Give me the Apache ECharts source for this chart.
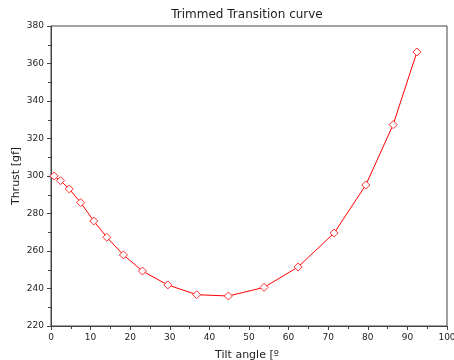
<!DOCTYPE html>
<html>
<head>
<meta charset="utf-8">
<script src="https://cdn.jsdelivr.net/npm/echarts@6/dist/echarts.min.js"></script>
<style>
  html, body { margin: 0; padding: 0; background: #fff; }
  #chart { width: 454px; height: 360px; }
</style>
</head>
<body>
<div id="chart"></div>
<script>
// tilt angle [deg] and thrust [gf]
const tiltAngle = [0.8, 2.4, 4.6, 7.5, 10.8, 14.1, 18.3, 23.1, 29.5, 36.8, 44.8, 53.8, 62.4, 71.5, 79.5, 86.4, 92.4];
const thrust = [300, 297.5, 293.1, 285.8, 276, 267.3, 257.9, 249.3, 241.9, 236.7, 236, 240.6, 251.5, 269.6, 295.2, 327.4, 366.1];

const font = 'DejaVu Sans, sans-serif';
const chart = echarts.init(document.getElementById('chart'), null, { renderer: 'canvas' });

const axisCommon = {
  axisLine: { lineStyle: { color: '#444', width: 1 } },
  axisTick: { show: true, length: 4, lineStyle: { color: '#444' } },
  minorTick: { show: true, splitNumber: 2, length: 3, lineStyle: { color: '#444' } },
  splitLine: { show: false },
  axisLabel: { color: '#222', fontSize: 9, fontFamily: font, margin: 7 },
  nameTextStyle: { color: '#222', fontSize: 11, fontFamily: font },
};

chart.setOption({
  animation: false,
  backgroundColor: '#fff',
  title: [{
    text: 'Trimmed Transition curve',
    left: 242, top: 4, textAlign: 'center',
    textStyle: { color: '#222', fontSize: 12, fontWeight: 'normal', fontFamily: font },
  }, {
    // x axis caption sits left of the plot centre in the reference
    text: 'Tilt angle [º',
    left: 242, top: 345, textAlign: 'center',
    textStyle: { color: '#222', fontSize: 11, fontWeight: 'normal', fontFamily: font },
  }],
  grid: {
    left: 51, right: 7, top: 26, bottom: 34,
    outerBoundsMode: 'none', containLabel: false,
    show: true, borderColor: '#444', borderWidth: 1,
  },
  xAxis: {
    ...axisCommon,
    type: 'value', min: 0, max: 100, interval: 10,
  },
  yAxis: {
    ...axisCommon,
    type: 'value', min: 220, max: 380, interval: 20,
    name: 'Thrust [gf]', nameLocation: 'middle', nameGap: 29, nameRotate: 90,
    nameMoveOverlap: false,
  },
  series: [{
    type: 'line',
    data: tiltAngle.map((a, i) => [a, thrust[i]]),
    symbol: 'diamond',
    symbolSize: 8,
    showAllSymbol: true,
    lineStyle: { color: '#ff0000', width: 1 },
    itemStyle: { color: '#fff', borderColor: '#ff3030', borderWidth: 1 },
    emphasis: { disabled: true },
  }],
});
</script>
</body>
</html>
